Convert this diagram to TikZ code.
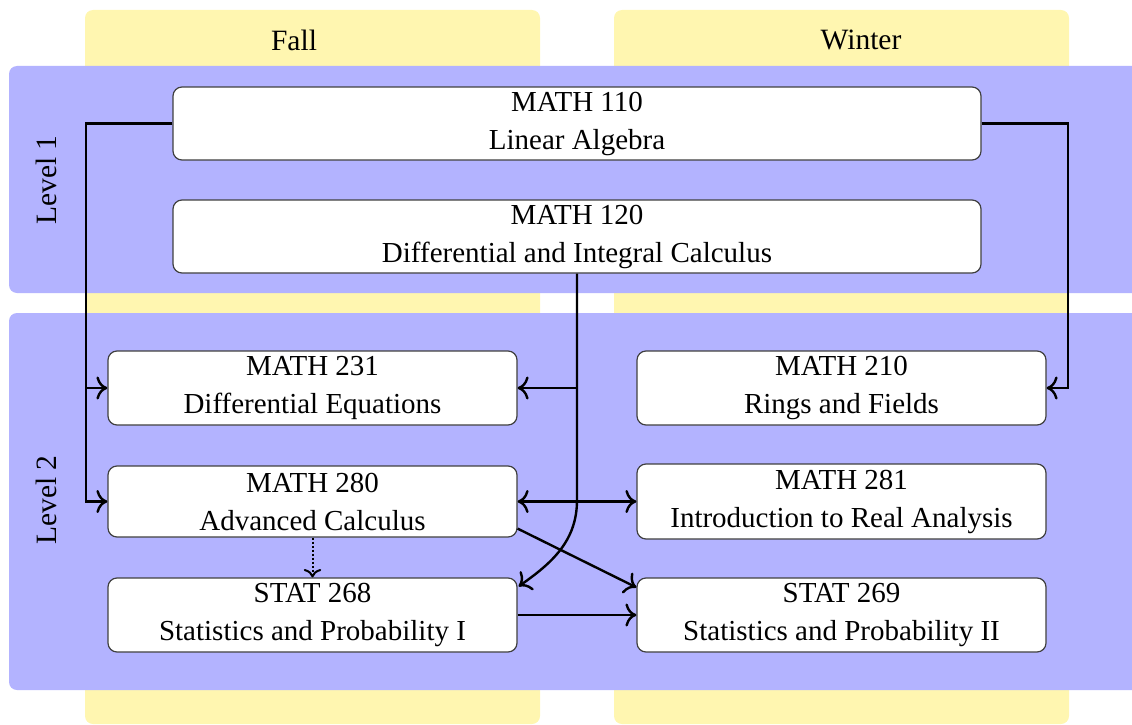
\documentclass[tikz,border=0pt]{standalone}
\usepackage{fontspec}
\setmainfont{Liberation Serif}
\usetikzlibrary{calc,arrows.meta}
\definecolor{colyellow}{RGB}{255,246,176}
\definecolor{rowblue}{RGB}{179,179,255}
\begin{document}
\begin{tikzpicture}[x=1pt,y=-1pt,
  colbox/.style={fill=colyellow, rounded corners=8pt},
  rowbox/.style={fill=rowblue, rounded corners=8pt},
  course/.style={draw=black!75, line width=1.2pt, fill=white, rounded corners=9pt,
     align=center, font=\fontsize{29}{38}\selectfont, inner sep=0pt},
  hdr/.style={font=\fontsize{29.5}{36}\selectfont},
  tip/.tip={To[scale=1.6]},
  conn/.style={line width=2.4pt, -tip},
  bconn/.style={line width=2.4pt, tip-tip},
]
\useasboundingbox (0,0) rectangle (1132,725);
% columns
\fill[colbox] (85,10) rectangle (540,724);
\fill[colbox] (614,10) rectangle (1069,724);
\node[hdr] (fall) at (294,40) {Fall};
\node[hdr] (winter) at (861,40) {Winter};
% rows
\fill[rowbox] (9,66) rectangle (1160,293);
\fill[rowbox] (9,313) rectangle (1160,690);
\node[hdr, rotate=90] (lev1) at (46,180) {Level 1};
\node[hdr, rotate=90] (lev2) at (46,500) {Level 2};
% courses
\node[course, minimum width=808pt, minimum height=73pt] (m110) at (577,123.5) {MATH 110\\Linear Algebra};
\node[course, minimum width=808pt, minimum height=73pt] (m120) at (577,236.5) {MATH 120\\Differential and Integral Calculus};
\node[course, minimum width=409pt, minimum height=74pt] (m231) at (312.5,388) {MATH 231\\Differential Equations};
\node[course, minimum width=409pt, minimum height=74pt] (m210) at (841.5,388) {MATH 210\\Rings and Fields};
\node[course, minimum width=409pt, minimum height=71pt] (m280) at (312.5,501.5) {MATH 280\\Advanced Calculus};
\node[course, minimum width=409pt, minimum height=75pt] (m281) at (841.5,501.5) {MATH 281\\Introduction to Real Analysis};
\node[course, minimum width=409pt, minimum height=74pt] (s268) at (312.5,615) {STAT 268\\Statistics and Probability I};
\node[course, minimum width=409pt, minimum height=74pt] (s269) at (841.5,615) {STAT 269\\Statistics and Probability II};
% connectors
\coordinate (L) at (86,123.5);
\coordinate (R) at (1068,123.5);
\draw[conn] (m110.west) -- (L) |- (m231.west);
\draw[conn] (L) |- (m280.west);
\draw[conn] (m110.east) -- (R) |- (m210.east);
\draw[conn] (m120.south) |- (m231.east);
\coordinate (bend) at (577,500);
\coordinate (s268in) at ($(s268.north east)+(1,9)$);
\draw[conn] (m120.south) -- (bend) to[out=-90,in=35] (s268in);
\draw[bconn] (m280.east) -- (m281.west);
\coordinate (m280out) at ($(m280.south east)+(0,-9)$);
\coordinate (s269in) at ($(s269.north west)+(0,10)$);
\draw[conn] (m280out) -- (s269in);
\draw[conn] (s268.east) -- (s269.west);
\draw[line width=2pt, dotted, -{To[scale=1.4]}] (m280.south) -- (s268.north);
\end{tikzpicture}
\end{document}
